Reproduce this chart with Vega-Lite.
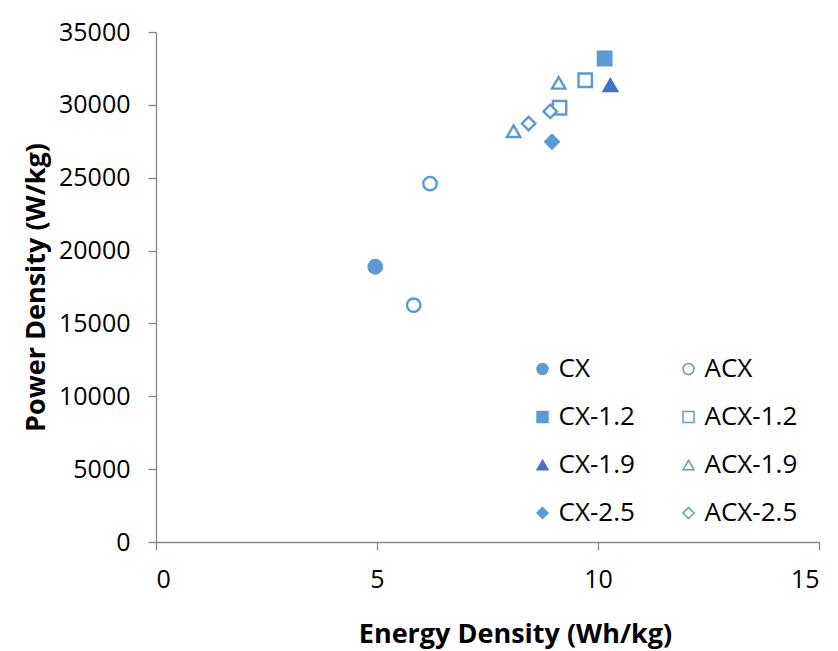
{
  "$schema": "https://vega.github.io/schema/vega-lite/v6.json",
  "width": 663,
  "height": 510,
  "autosize": {"type": "none"},
  "padding": {"left": 156, "top": 32, "right": 19, "bottom": 109},
  "background": "white",
  "config": {
    "view": {"stroke": null},
    "font": "Open Sans"
  },
  "data": {
    "values": [
      {"series": "CX", "energy": 4.96, "power": 18890},
      {"series": "ACX", "energy": 5.83, "power": 16250},
      {"series": "ACX", "energy": 6.2, "power": 24600},
      {"series": "CX-1.2", "energy": 10.15, "power": 33180},
      {"series": "ACX-1.2", "energy": 9.71, "power": 31690},
      {"series": "ACX-1.2", "energy": 9.13, "power": 29800},
      {"series": "CX-1.9", "energy": 10.28, "power": 31350},
      {"series": "ACX-1.9", "energy": 9.11, "power": 31510},
      {"series": "ACX-1.9", "energy": 8.09, "power": 28190},
      {"series": "CX-2.5", "energy": 8.96, "power": 27470},
      {"series": "ACX-2.5", "energy": 8.43, "power": 28720},
      {"series": "ACX-2.5", "energy": 8.92, "power": 29550}
    ]
  },
  "mark": {"type": "point", "filled": true, "size": 180, "strokeWidth": 2.4, "opacity": 1},
  "encoding": {
    "x": {
      "field": "energy", "type": "quantitative",
      "scale": {"domain": [0, 15], "nice": false, "zero": true},
      "axis": {
        "title": "Energy Density (Wh/kg)", "values": [0, 5, 10, 15], "grid": false,
        "domainColor": "#868686", "tickColor": "#868686", "tickSize": 8, "domainWidth": 1.3, "tickWidth": 1.3,
        "labelFontSize": 25, "labelColor": "#000000", "labelPadding": 17,
        "titleFontSize": 27, "titleFontWeight": "bold", "titleColor": "#000000", "titlePadding": 29,
        "titleX": 359, "titleAlign": "center"
      }
    },
    "y": {
      "field": "power", "type": "quantitative",
      "scale": {"domain": [0, 35000], "nice": false},
      "axis": {
        "title": "Power Density (W/kg)", "values": [0, 5000, 10000, 15000, 20000, 25000, 30000, 35000], "grid": false,
        "format": "d",
        "domainColor": "#868686", "tickColor": "#868686", "tickSize": 8, "domainWidth": 1.3, "tickWidth": 1.3,
        "labelFontSize": 25, "labelColor": "#000000", "labelPadding": 18,
        "titleFontSize": 27, "titleFontWeight": "bold", "titleColor": "#000000", "titlePadding": 8
      }
    },
    "shape": {
      "field": "series", "type": "nominal",
      "scale": {
        "domain": ["CX", "ACX", "CX-1.2", "ACX-1.2", "CX-1.9", "ACX-1.9", "CX-2.5", "ACX-2.5"],
        "range": ["circle", "circle", "square", "square", "triangle-up", "triangle-up", "diamond", "diamond"]
      },
      "legend": {
        "title": null, "orient": "none", "legendX": 373.5, "legendY": 324, "columns": 2, "direction": "horizontal",
        "columnPadding": 40, "rowPadding": 22, "labelFontSize": 26, "labelColor": "#000000",
        "symbolSize": 120, "symbolStrokeWidth": 1.5, "labelOffset": 3, "labelLimit": 200
      }
    },
    "fill": {
      "field": "series", "type": "nominal",
      "scale": {
        "domain": ["CX", "ACX", "CX-1.2", "ACX-1.2", "CX-1.9", "ACX-1.9", "CX-2.5", "ACX-2.5"],
        "range": ["#5B9BD5", "#ffffff", "#5B9BD5", "#ffffff", "#4472C4", "#ffffff", "#5B9BD5", "#ffffff"]
      }
    },
    "stroke": {
      "field": "series", "type": "nominal",
      "scale": {
        "domain": ["CX", "ACX", "CX-1.2", "ACX-1.2", "CX-1.9", "ACX-1.9", "CX-2.5", "ACX-2.5"],
        "range": ["#5B9BD5", "#5B9BD5", "#5B9BD5", "#5B9BD5", "#4472C4", "#5B9BD5", "#5B9BD5", "#5B9BD5"]
      }
    }
  }
}
